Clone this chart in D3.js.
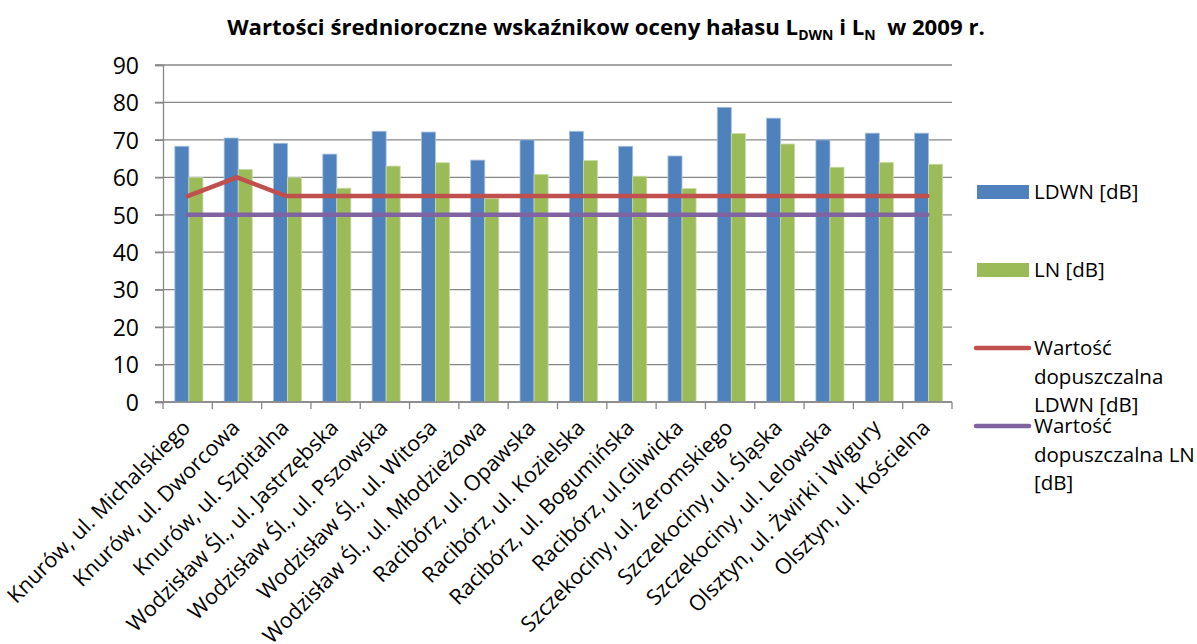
<!DOCTYPE html>
<html>
<head>
<meta charset="utf-8">
<script src="https://cdn.jsdelivr.net/npm/d3@7/dist/d3.min.js"></script>
<style>
  body { margin: 0; background: #fff; }
  svg { display: block; font-family: "Open Sans", "Noto Sans", sans-serif; }
</style>
</head>
<body>
<svg id="chart" width="1197" height="644"></svg>
<script>
const categories = [
  'Knurów, ul. Michalskiego',
  'Knurów, ul. Dworcowa',
  'Knurów, ul. Szpitalna',
  'Wodzisław Śl., ul. Jastrzębska',
  'Wodzisław Śl., ul. Pszowska',
  'Wodzisław Śl., ul. Witosa',
  'Wodzisław Śl., ul. Młodzieżowa',
  'Racibórz, ul. Opawska',
  'Racibórz, ul. Kozielska',
  'Racibórz, ul. Bogumińska',
  'Racibórz, ul.Gliwicka',
  'Szczekociny, ul. Żeromskiego',
  'Szczekociny, ul. Śląska',
  'Szczekociny, ul. Lelowska',
  'Olsztyn, ul. Żwirki i Wigury',
  'Olsztyn, ul. Kościelna'
];
const ldwn = [68.3, 70.5, 69.1, 66.2, 72.3, 72.1, 64.6, 70.0, 72.3, 68.3, 65.7, 78.7, 75.8, 70.0, 71.8, 71.8];
const ln = [60.0, 62.1, 59.9, 57.1, 63.0, 63.9, 54.3, 60.8, 64.5, 60.3, 57.0, 71.7, 68.9, 62.7, 64.0, 63.5];
const limitLdwn = [55, 60, 55, 55, 55, 55, 55, 55, 55, 55, 55, 55, 55, 55, 55, 55];
const limitLn = [50, 50, 50, 50, 50, 50, 50, 50, 50, 50, 50, 50, 50, 50, 50, 50];
const yTicks = [0, 10, 20, 30, 40, 50, 60, 70, 80, 90];

const colors = {
  ldwn: '#4F81BD',
  ln: '#9BBB59',
  limitLdwn: '#C0504D',
  limitLn: '#8064A2',
  grid: '#878787'
};

const svg = d3.select('#chart');
const plot = { left: 163, right: 952, top: 65, bottom: 402 };

const x = d3.scaleBand()
  .domain(categories)
  .range([plot.left, plot.right])
  .paddingInner(0)
  .paddingOuter(0);

const inner = d3.scaleBand()
  .domain(['ldwn', 'ln'])
  .range([x.bandwidth() * 0.24, x.bandwidth() * 0.81]);

const y = d3.scaleLinear()
  .domain([0, 90])
  .range([plot.bottom, plot.top]);

// title
const title = svg.append('text')
  .attr('x', 606)
  .attr('y', 35)
  .attr('text-anchor', 'middle')
  .style('font-weight', 'bold')
  .style('font-size', '22.2px')
  .style('fill', '#000');
title.append('tspan').text('Wartości średnioroczne wskaźnikow oceny hałasu L');
title.append('tspan').attr('dy', 5).style('font-size', '14px').text('DWN');
title.append('tspan').attr('dy', -5).text(' i L');
title.append('tspan').attr('dy', 5).style('font-size', '14px').text('N');
title.append('tspan').attr('dy', -5).text('\u00a0 w 2009 r.');

// gridlines
svg.append('g')
  .selectAll('line')
  .data(yTicks)
  .join('line')
  .attr('x1', plot.left - 8)
  .attr('x2', plot.right)
  .attr('y1', d => y(d))
  .attr('y2', d => y(d))
  .attr('stroke', colors.grid)
  .attr('stroke-width', 1.3);

// y axis
const yAxis = svg.append('g')
  .attr('transform', `translate(${plot.left},0)`)
  .call(d3.axisLeft(y).tickValues(yTicks).tickSize(8).tickPadding(16));
yAxis.select('.domain').attr('stroke', colors.grid).attr('stroke-width', 1.3);
yAxis.selectAll('.tick line').attr('stroke', colors.grid).attr('stroke-width', 1.3);
yAxis.selectAll('.tick text')
  .style('font-family', '"Open Sans", sans-serif')
  .style('font-size', '23px')
  .attr('fill', '#000')
  .attr('dy', '0.36em');

// x axis ticks at band edges
const edges = categories.map(c => x(c)).concat([plot.right]);
svg.append('g')
  .selectAll('line')
  .data(edges)
  .join('line')
  .attr('x1', d => d)
  .attr('x2', d => d)
  .attr('y1', plot.bottom)
  .attr('y2', plot.bottom + 7)
  .attr('stroke', colors.grid)
  .attr('stroke-width', 1.3);

// bars
const groups = svg.append('g')
  .selectAll('g')
  .data(categories.map((c, i) => ({ c, ldwn: ldwn[i], ln: ln[i] })))
  .join('g')
  .attr('transform', d => `translate(${x(d.c)},0)`);

groups.selectAll('rect')
  .data(d => [{ key: 'ldwn', v: d.ldwn }, { key: 'ln', v: d.ln }])
  .join('rect')
  .attr('x', d => inner(d.key))
  .attr('width', inner.bandwidth())
  .attr('y', d => y(d.v))
  .attr('height', d => y(0) - y(d.v))
  .attr('fill', d => colors[d.key])
  .attr('stroke', d => d.key === 'ldwn' ? '#a9c1e0' : '#c9dba8')
  .attr('stroke-width', 0.8);

// x axis line over bars
svg.append('line')
  .attr('x1', plot.left - 8)
  .attr('x2', plot.right)
  .attr('y1', plot.bottom)
  .attr('y2', plot.bottom)
  .attr('stroke', colors.grid)
  .attr('stroke-width', 1.3);

// limit lines
const line = d3.line()
  .x((d, i) => x(categories[i]) + x.bandwidth() / 2)
  .y(d => y(d));

svg.append('path')
  .datum(limitLdwn)
  .attr('d', line)
  .attr('fill', 'none')
  .attr('stroke', colors.limitLdwn)
  .attr('stroke-width', 4.5)
  .attr('stroke-linecap', 'round')
  .attr('stroke-linejoin', 'round');

svg.append('path')
  .datum(limitLn)
  .attr('d', line)
  .attr('fill', 'none')
  .attr('stroke', colors.limitLn)
  .attr('stroke-width', 4.5)
  .attr('stroke-linecap', 'round')
  .attr('stroke-linejoin', 'round');

// category labels
svg.append('g')
  .selectAll('text')
  .data(categories)
  .join('text')
  .attr('transform', d => `translate(${x(d) + x.bandwidth() / 2 + 4},${plot.bottom + 27}) rotate(-45)`)
  .attr('text-anchor', 'end')
  .style('font-size', '21.5px')
  .attr('fill', '#000')
  .text(d => d);

// legend
const legend = svg.append('g').style('font-size', '20.5px');
const legendItems = [
  { type: 'rect', color: colors.ldwn, y: 192, lines: ['LDWN [dB]'] },
  { type: 'rect', color: colors.ln, y: 270, lines: ['LN [dB]'] },
  { type: 'line', color: colors.limitLdwn, y: 348, lines: ['Wartość', 'dopuszczalna', 'LDWN [dB]'] },
  { type: 'line', color: colors.limitLn, y: 426, lines: ['Wartość', 'dopuszczalna LN', '[dB]'] }
];
legendItems.forEach(item => {
  if (item.type === 'rect') {
    legend.append('rect')
      .attr('x', 977).attr('y', item.y - 7)
      .attr('width', 52).attr('height', 14)
      .attr('fill', item.color);
  } else {
    legend.append('line')
      .attr('x1', 976).attr('x2', 1029)
      .attr('y1', item.y).attr('y2', item.y)
      .attr('stroke', item.color)
      .attr('stroke-width', 4.5)
      .attr('stroke-linecap', 'round');
  }
  const t = legend.append('text')
    .attr('x', 1034)
    .attr('y', item.y)
    .attr('fill', '#000');
  item.lines.forEach((l, i) => {
    t.append('tspan')
      .attr('x', 1034)
      .attr('y', item.y + i * 28.5)
      .attr('dy', '0.36em')
      .text(l);
  });
});
</script>
</body>
</html>
